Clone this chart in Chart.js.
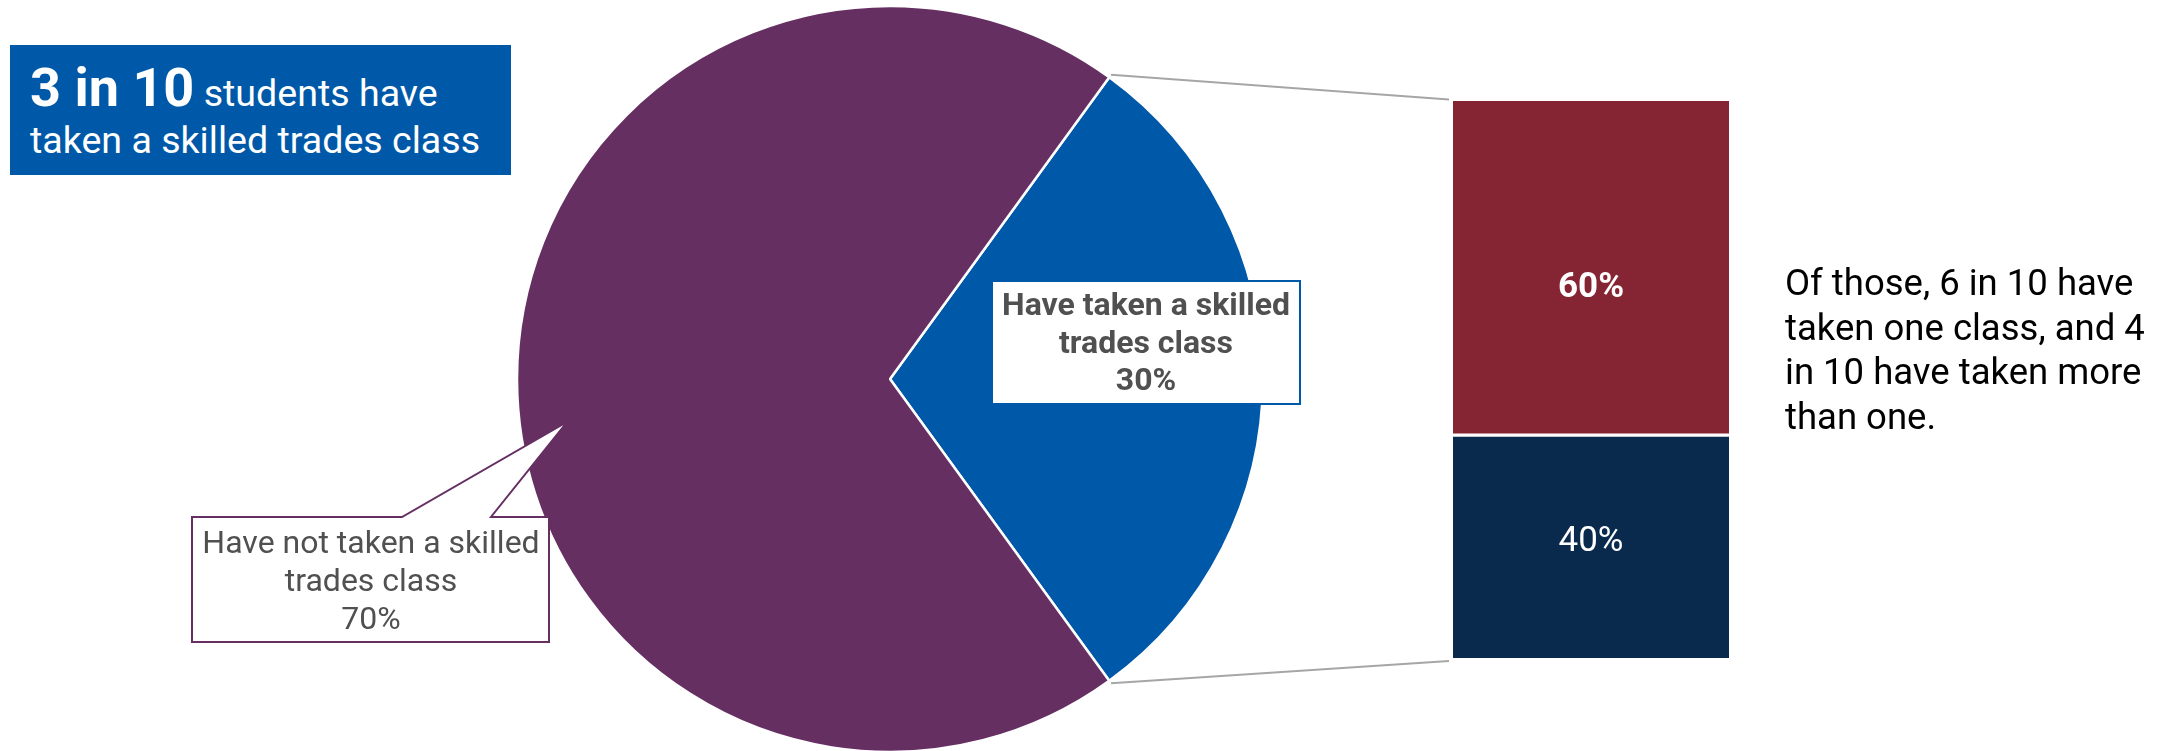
<!DOCTYPE html>
<html>
<head>
<meta charset="utf-8">
<title>Skilled trades classes</title>
<script src="https://cdn.jsdelivr.net/npm/chart.js@4.4.1/dist/chart.umd.min.js"></script>
<style>
  html, body { margin: 0; padding: 0; background: #ffffff; }
  #stage { position: relative; width: 2176px; height: 751px; overflow: hidden;
           font-family: Roboto, "Noto Sans", sans-serif; }
  #stage canvas { position: absolute; left: 0; top: 0; }
  .headline { position: absolute; left: 10px; top: 45px; width: 501px; height: 130px;
              background: #0058A8; color: #ffffff; }
  .headline .row { position: absolute; left: 20px; white-space: nowrap;
                   font-size: 37.6px; line-height: 37px; font-weight: 400; }
  .headline .row b { font-size: 54px; font-weight: 700; }
  .headline .r1 { top: 24px; }
  .headline .r2 { top: 77.3px; }
  .note { position: absolute; left: 1785px; top: 261px; font-size: 36.5px; line-height: 44.5px;
          color: #000000; white-space: nowrap; }
</style>
</head>
<body>
<div id="stage">
  <canvas id="pie" width="2176" height="751"></canvas>
  <canvas id="split" width="2176" height="751"></canvas>
  <div class="headline">
    <div class="row r1"><b>3 in 10</b> students have</div>
    <div class="row r2">taken a skilled trades class</div>
  </div>
  <div class="note">Of those, 6 in 10 have<br>taken one class, and 4<br>in 10 have taken more<br>than one.</div>
</div>
<script>
// Share of students who have / have not taken a skilled trades class
const sliceLabels = ['Have taken a skilled trades class', 'Have not taken a skilled trades class'];
const sliceValues = [30, 70];
const sliceColors = ['#0058A8', '#652F62'];
const sliceLabelLines = [['Have taken a skilled', 'trades class'], ['Have not taken a skilled', 'trades class']];

// Among those who have: one class vs. more than one (stacked bottom to top)
const splitLabels = ['More than one class', 'One class'];
const splitValues = [40, 60];
const splitColors = ['#0A2A4D', '#852533'];
const splitCategory = ['Have taken a skilled trades class'];

const FONT = 'Roboto, "Noto Sans", sans-serif';
const LABEL_GREY = '#505050';

// Label boxes beside each slice
const sliceBoxes = [
  { x0: 992, y0: 281, x1: 1300, y1: 404, bold: true, cx: 1146, baselines: [315, 352.5, 390] },
  { x0: 192, y0: 517, x1: 549, y1: 642, bold: false, cx: 371, baselines: [553, 591, 629],
    pointer: { left: 402, right: 491, tipX: 567, tipY: 422 } }
];

const sliceLabelPlugin = {
  id: 'sliceLabelBoxes',
  afterDatasetsDraw(chart) {
    const ctx = chart.ctx;
    sliceBoxes.forEach((b, i) => {
      ctx.save();
      ctx.beginPath();
      ctx.moveTo(b.x0, b.y0);
      if (b.pointer) {
        ctx.lineTo(b.pointer.left, b.y0);
        ctx.lineTo(b.pointer.tipX, b.pointer.tipY);
        ctx.lineTo(b.pointer.right, b.y0);
      }
      ctx.lineTo(b.x1, b.y0);
      ctx.lineTo(b.x1, b.y1);
      ctx.lineTo(b.x0, b.y1);
      ctx.closePath();
      ctx.fillStyle = '#ffffff';
      ctx.fill();
      ctx.lineWidth = 2;
      ctx.lineJoin = 'miter';
      ctx.strokeStyle = sliceColors[i];
      ctx.stroke();

      const lines = sliceLabelLines[i].concat([sliceValues[i] + '%']);
      ctx.fillStyle = LABEL_GREY;
      ctx.font = (b.bold ? '700 ' : '400 ') + '32px ' + FONT;
      ctx.textAlign = 'center';
      ctx.textBaseline = 'alphabetic';
      lines.forEach((t, k) => ctx.fillText(t, b.cx, b.baselines[k]));
      ctx.restore();
    });
  }
};

const pieChart = new Chart(document.getElementById('pie'), {
  type: 'pie',
  data: {
    labels: sliceLabels,
    datasets: [{
      data: sliceValues,
      backgroundColor: sliceColors,
      borderColor: '#ffffff',
      borderWidth: 2.5
    }]
  },
  options: {
    responsive: false,
    animation: false,
    events: [],
    rotation: 36,
    radius: 373,
    layout: { padding: { left: 500, right: 896, top: 7, bottom: 0 } },
    plugins: { legend: { display: false }, tooltip: { enabled: false } }
  },
  plugins: [sliceLabelPlugin]
});

// Connector lines from the taken-slice edges to the breakdown bar, plus bar value labels
const connectorPlugin = {
  id: 'breakdownConnectors',
  afterDatasetsDraw(chart) {
    const ctx = chart.ctx;
    const arc = pieChart.getDatasetMeta(0).data[0];
    const r = arc.outerRadius + 3;
    const top = chart.getDatasetMeta(1).data[0];
    const bottom = chart.getDatasetMeta(0).data[0];
    const barLeft = top.x - top.width / 2;

    ctx.save();
    ctx.strokeStyle = '#A6A6A6';
    ctx.lineWidth = 2;
    ctx.beginPath();
    ctx.moveTo(arc.x + r * Math.cos(arc.startAngle), arc.y + r * Math.sin(arc.startAngle));
    ctx.lineTo(barLeft - 4, top.y - 1.5);
    ctx.moveTo(arc.x + r * Math.cos(arc.endAngle), arc.y + r * Math.sin(arc.endAngle));
    ctx.lineTo(barLeft - 4, bottom.base + 3);
    ctx.stroke();

    // value labels inside each segment, nudged towards the split
    ctx.fillStyle = '#ffffff';
    ctx.textAlign = 'center';
    ctx.textBaseline = 'middle';
    const styles = ['400', '700'];
    const nudges = [-4, 20];
    chart.getDatasetMeta(0).data.concat(chart.getDatasetMeta(1).data).forEach((bar, i) => {
      ctx.font = styles[i] + ' 35px ' + FONT;
      const midY = (bar.y + bar.base) / 2 + nudges[i];
      ctx.fillText(splitValues[i] + '%', bar.x, midY);
    });
    ctx.restore();
  }
};

new Chart(document.getElementById('split'), {
  type: 'bar',
  data: {
    labels: splitCategory,
    datasets: [
      { label: splitLabels[0], data: [splitValues[0]], backgroundColor: splitColors[0],
        borderColor: '#ffffff', borderWidth: { top: 2, bottom: 0, left: 0, right: 0 }, borderSkipped: false },
      { label: splitLabels[1], data: [splitValues[1]], backgroundColor: splitColors[1],
        borderColor: '#ffffff', borderWidth: { top: 0, bottom: 2, left: 0, right: 0 }, borderSkipped: false }
    ]
  },
  options: {
    responsive: false,
    animation: false,
    events: [],
    barPercentage: 1,
    categoryPercentage: 1,
    layout: { padding: { left: 1453, right: 447, top: 101, bottom: 93 } },
    scales: {
      x: { display: false, stacked: true },
      y: { display: false, stacked: true, min: 0, max: 100 }
    },
    plugins: { legend: { display: false }, tooltip: { enabled: false } }
  },
  plugins: [connectorPlugin]
});
</script>
</body>
</html>
